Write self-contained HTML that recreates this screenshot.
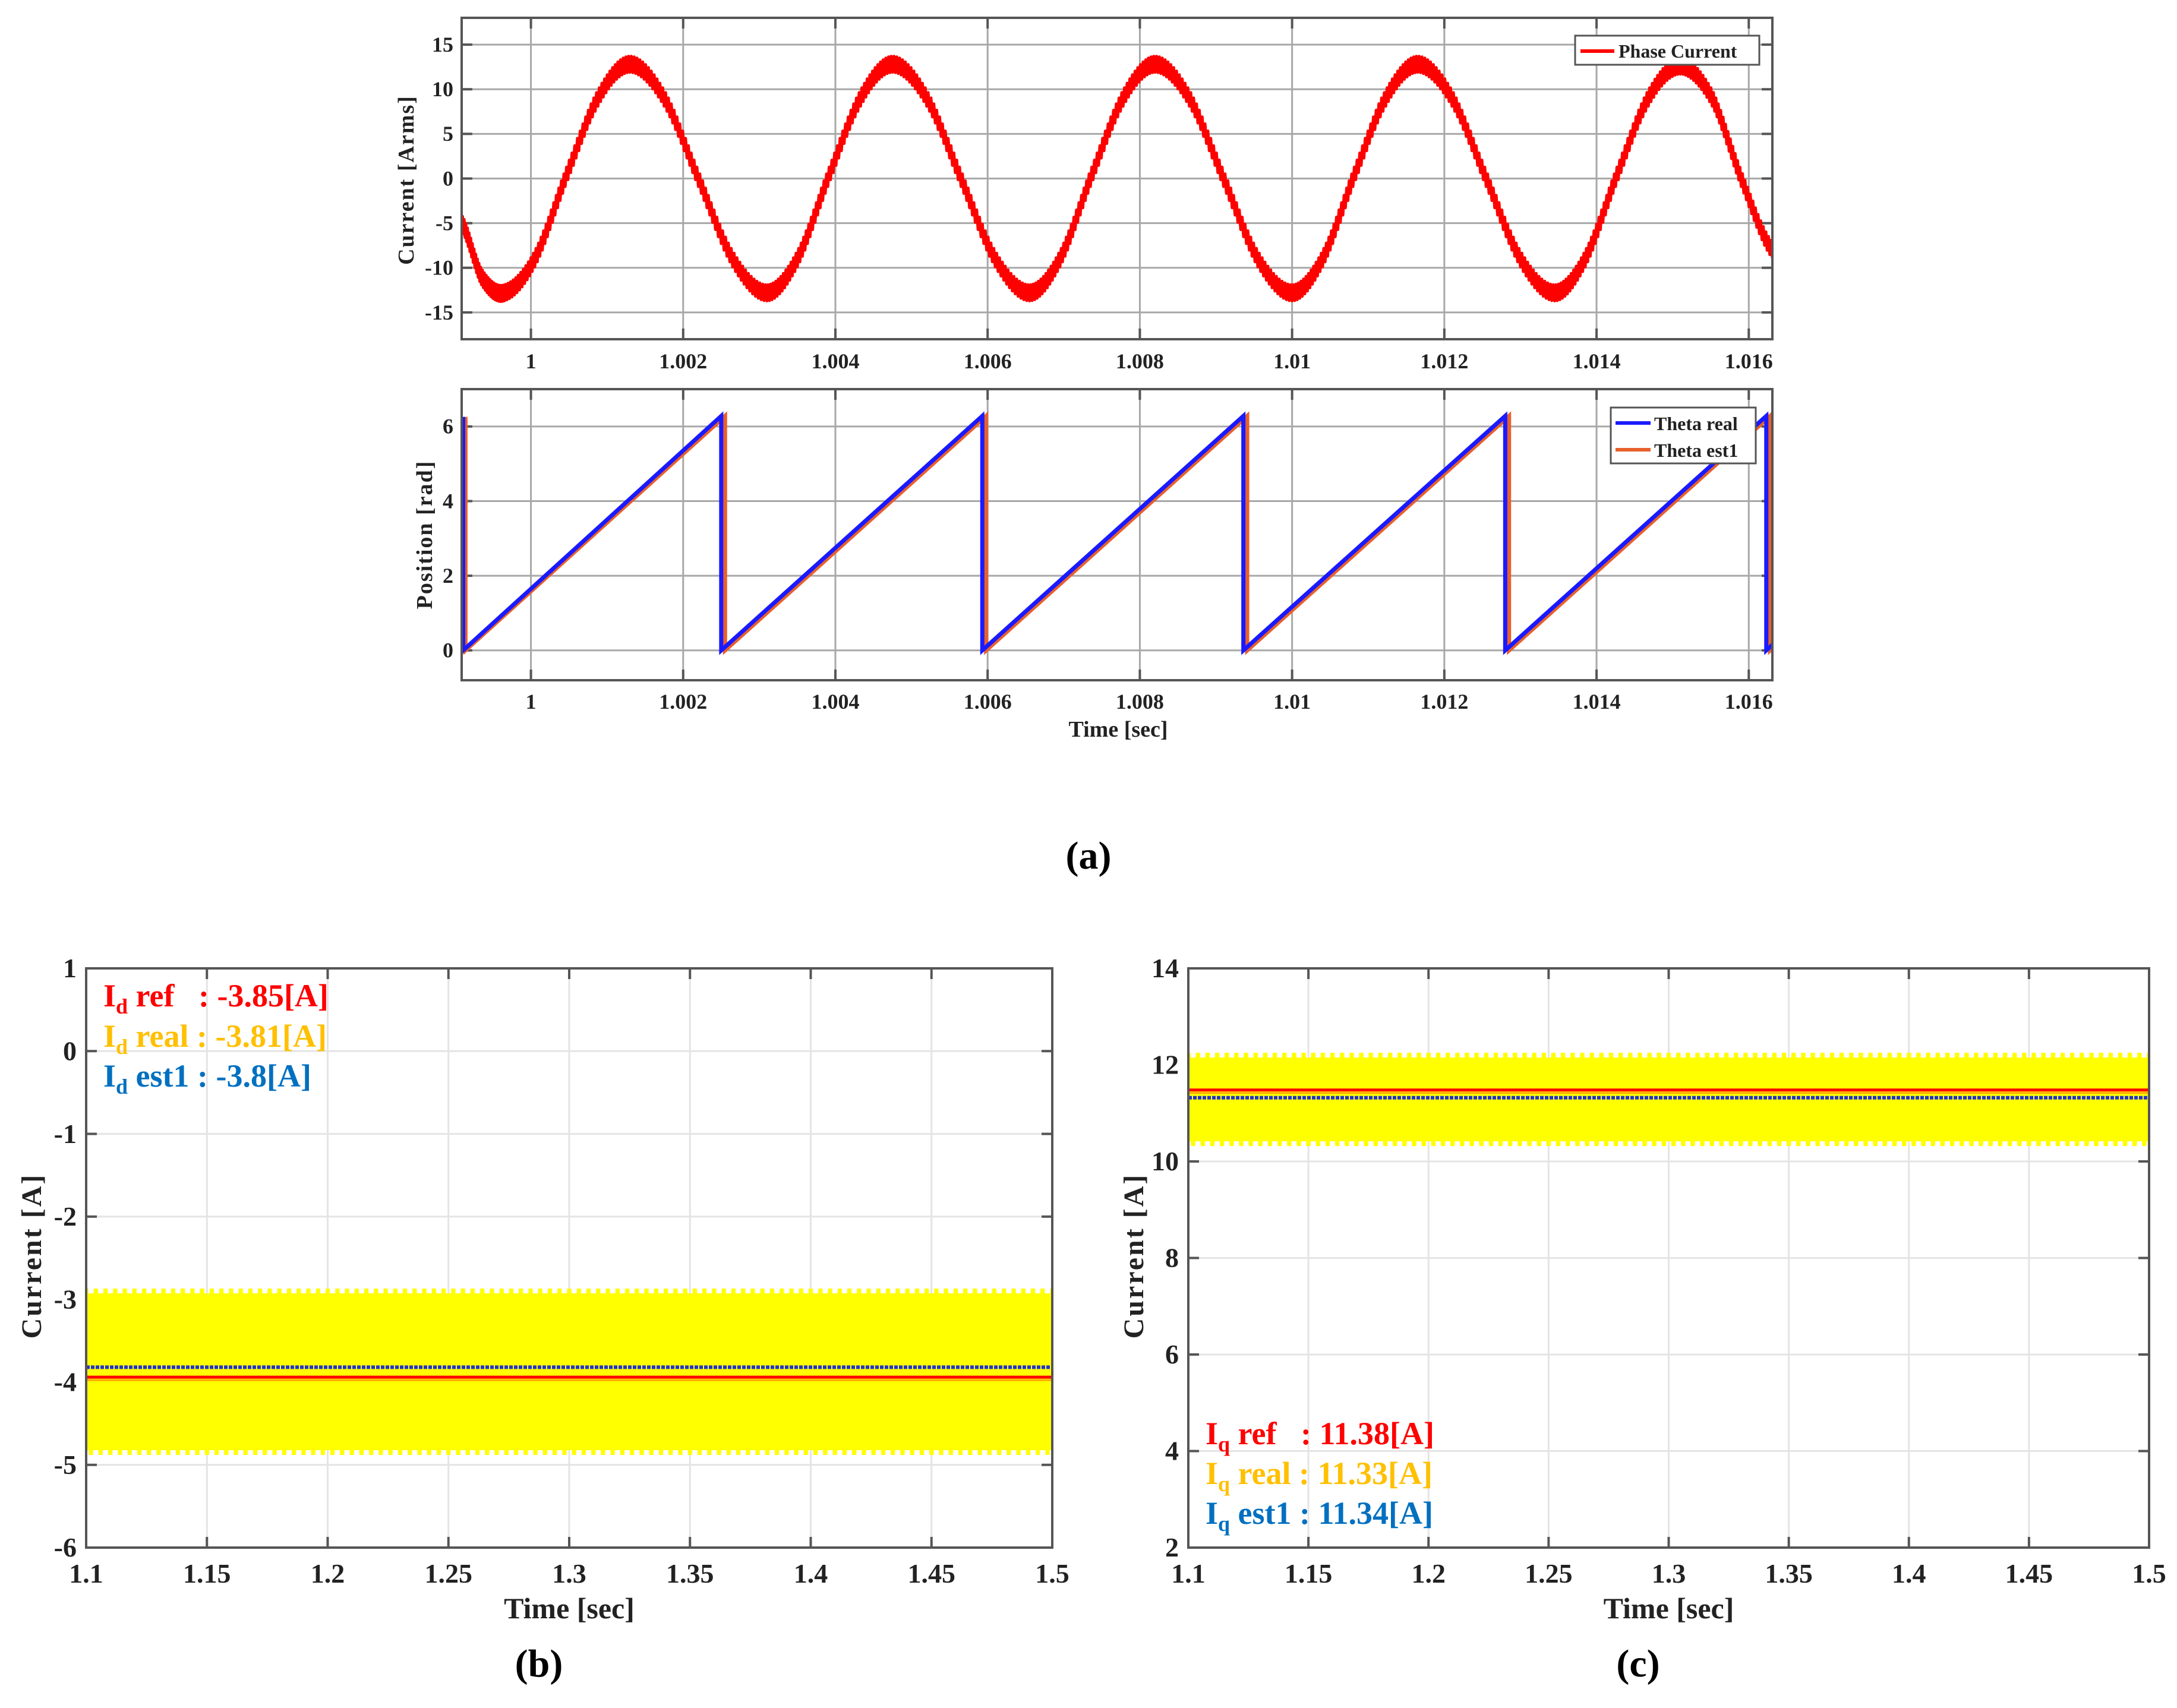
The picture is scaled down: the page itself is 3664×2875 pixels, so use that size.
<!DOCTYPE html>
<html><head><meta charset="utf-8"><style>
html,body{margin:0;padding:0;background:#fff;}
svg text{font-family:"Liberation Serif",serif;font-weight:bold;}
</style></head><body>
<svg id="fig" width="3664" height="2870" viewBox="0 0 3664 2870" xmlns="http://www.w3.org/2000/svg">
<rect width="3664" height="2870" fill="#fff"/>
</svg>
<script>
// ---- Data: phase current key points (time, value) ----
const pcTimes=[0.99909,0.99935,0.99965,1.00005,1.00045,1.00088,1.0013,1.00175,1.0022,1.00265,1.0031,1.0035,1.0039,1.00433,1.00475,1.0052,1.00565,1.0061,1.00655,1.00695,1.00735,1.00778,1.0082,1.00865,1.0091,1.00955,1.0100,1.0104,1.0108,1.01123,1.01165,1.0121,1.01255,1.013,1.01345,1.01385,1.01425,1.01468,1.0151,1.01552,1.0159,1.01631];
const pcValues=[-5,-11,-12.8,-9,0,9,12.8,9,0,-9,-12.8,-9,0,9,12.8,9,0,-9,-12.8,-9,0,9,12.8,9,0,-9,-12.8,-9,0,9,12.8,9,0,-9,-12.8,-9,0,9,12.6,9,0,-8];
const pcRipple=0.9;
// ---- Data: theta wrap instants ----
const thetaRealResets=[0.99911,1.00250,1.00593,1.00936,1.01280,1.01623];
const thetaEstResets=[0.99914,1.00255,1.00598,1.00941,1.01285,1.01628];
const thetaMax=6.28;
// ---- Data: dq currents ----
const idRef=-3.94, idEst=-3.82, idRealMax=-2.87, idRealMin=-4.88;
const iqRef=11.48, iqEst=11.32, iqRealMax=12.25, iqRealMin=10.32;
const topXTicks=[1,1.002,1.004,1.006,1.008,1.01,1.012,1.014,1.016];
const topXLabels=["1","1.002","1.004","1.006","1.008","1.01","1.012","1.014","1.016"];
const pcYTicks=[-15,-10,-5,0,5,10,15];
const thYTicks=[0,2,4,6];
const botXTicks=[1.1,1.15,1.2,1.25,1.3,1.35,1.4,1.45,1.5];
const botXLabels=["1.1","1.15","1.2","1.25","1.3","1.35","1.4","1.45","1.5"];
const idYTicks=[-6,-5,-4,-3,-2,-1,0,1];
const iqYTicks=[2,4,6,8,10,12,14];

const NS="http://www.w3.org/2000/svg";
const svg=document.getElementById('fig');
function el(tag,attrs,parent){const e=document.createElementNS(NS,tag);for(const k in attrs)e.setAttribute(k,attrs[k]);(parent||svg).appendChild(e);return e;}
function txt(s,attrs,parent){const e=el('text',attrs,parent);e.textContent=s;return e;}
function lin(d0,d1,r0,r1){return v=>r0+(v-d0)/(d1-d0)*(r1-r0);}

function axesBox(g,L,T,R,B,xs,ys,xt,yt,gridCol,gw){
  xt.forEach(v=>{const x=xs(v);const l=el('line',{x1:x,x2:x,y1:T,y2:B,stroke:gridCol,'stroke-width':gw},g);
    
    el('line',{x1:x,x2:x,y1:B,y2:B-18,stroke:'#555','stroke-width':4},g);el('line',{x1:x,x2:x,y1:T,y2:T+18,stroke:'#555','stroke-width':4},g);});
  yt.forEach(v=>{const y=ys(v);const l=el('line',{x1:L,x2:R,y1:y,y2:y,stroke:gridCol,'stroke-width':gw},g);
    
    el('line',{x1:L,x2:L+18,y1:y,y2:y,stroke:'#555','stroke-width':4},g);el('line',{x1:R,x2:R-18,y1:y,y2:y,stroke:'#555','stroke-width':4},g);});
}
function frame(g,L,T,R,B){const r=el('rect',{x:L,y:T,width:R-L,height:B-T,fill:'none',stroke:'#555','stroke-width':4},g);
  }
function tickLabels(g,xs,ys,xt,xl,yt,L,xlabY,fs,yfmt){
  xt.forEach((v,i)=>{const t=txt(xl[i],{x:xs(v),y:xlabY,'font-size':fs,'text-anchor':'middle',fill:'#222'},g);
    });
  yt.forEach(v=>{const t=txt(yfmt(v),{x:L-14,y:ys(v)+fs*0.33,'font-size':fs,'text-anchor':'end',fill:'#222'},g);
    });
}
function clip(id,L,T,R,B){const d=el('clipPath',{id:id});el('rect',{x:L,y:T,width:R-L,height:B-T},d);}

// ===== Plot 1: phase current =====
(function(){
  const L=777,T=30,R=2983,B=571;
  const xs=lin(0.99909,1.01631,L,R), ys=lin(18,-18,T,B);
  const g=el('g',{});
  clip('c1',L,T,R,B);
  axesBox(g,L,T,R,B,xs,ys,topXTicks,pcYTicks,'#a8a8a8',3);
  const pts=[];const n=pcTimes.length;
  for(let i=0;i<n-1;i++){
    const p0=i>0?i-1:i,p3=i+2<n?i+2:i+1;
    for(let s=0;s<24;s++){const u=s/24;
      const t=pcTimes[i]+(pcTimes[i+1]-pcTimes[i])*u;
      const a=pcValues[p0],b=pcValues[i],c=pcValues[i+1],d=pcValues[p3];
      const v=0.5*((2*b)+(-a+c)*u+(2*a-5*b+4*c-d)*u*u+(-a+3*b-3*c+d)*u*u*u);
      pts.push([t,v]);}
  }
  pts.push([pcTimes[n-1],pcValues[n-1]]);
  let d='';let k=0;
  pts.forEach(([t,v])=>{const off=(k++%2?pcRipple:-pcRipple);d+=(d?'L':'M')+xs(t).toFixed(1)+','+ys(v+off).toFixed(1);});
  const p=el('path',{d:d,fill:'none',stroke:'#ff0000','stroke-width':5,'clip-path':'url(#c1)','stroke-linejoin':'round'},g);
  
  frame(g,L,T,R,B);
  tickLabels(g,xs,ys,topXTicks,topXLabels,pcYTicks,L,620,36,v=>String(v));
  const yl=txt('Current [Arms]',{x:0,y:0,'font-size':38,'text-anchor':'middle',fill:'#222','letter-spacing':'2',transform:'translate(696,303) rotate(-90)'},g);
  
  const lg=el('g',{},g);
  el('rect',{x:2651,y:60,width:310,height:49,fill:'#fff',stroke:'#555','stroke-width':3},lg);
  el('line',{x1:2660,x2:2717,y1:86,y2:86,stroke:'#ff0000','stroke-width':6},lg);
  const lt=txt('Phase Current',{x:2724,y:97,'font-size':32,fill:'#222'},lg);
  
})();

// ===== Plot 2: theta =====
(function(){
  const L=777,T=655,R=2983,B=1145;
  const xs=lin(0.99909,1.01631,L,R), ys=lin(7,-0.8,T,B);
  const g=el('g',{});
  clip('c2',L,T,R,B);
  axesBox(g,L,T,R,B,xs,ys,topXTicks,thYTicks,'#a8a8a8',3);
  function saw(resets,col,name){
    let d='M'+xs(0.99909-0.00001)+','+ys(6.2);
    resets.forEach((r,i)=>{d+='L'+xs(r)+','+ys(i===0?6.2:thetaMax)+'L'+xs(r)+','+ys(0);
      const nx=i+1<resets.length?resets[i+1]:1.0164;
      const period=i+1<resets.length?nx-r:resets[1]-resets[0];
      d+='L'+xs(nx)+','+ys(thetaMax*(nx-r)/period);});
    const p=el('path',{d:d,fill:'none',stroke:col,'stroke-width':7,'clip-path':'url(#c2)'},g);
    
  }
  saw(thetaEstResets,'#e8602c','theta-est1-line');
  saw(thetaRealResets,'#1a1aff','theta-real-line');
  frame(g,L,T,R,B);
  tickLabels(g,xs,ys,topXTicks,topXLabels,thYTicks,L,1193,36,v=>String(v));
  const yl=txt('Position [rad]',{x:0,y:0,'font-size':38,'text-anchor':'middle',fill:'#222','letter-spacing':'2',transform:'translate(727,900) rotate(-90)'},g);
  
  const xl=txt('Time [sec]',{x:1882,y:1240,'font-size':38,'text-anchor':'middle',fill:'#222'},g);
  
  const lg=el('g',{},g);
  el('rect',{x:2711,y:686,width:244,height:94,fill:'#fff',stroke:'#555','stroke-width':3},lg);
  el('line',{x1:2719,x2:2778,y1:712,y2:712,stroke:'#1a1aff','stroke-width':6},lg);
  el('line',{x1:2719,x2:2778,y1:757,y2:757,stroke:'#e8602c','stroke-width':6},lg);
  const a=txt('Theta real',{x:2784,y:724,'font-size':32,fill:'#222'},lg);
  
  const b=txt('Theta est1',{x:2784,y:769,'font-size':32,fill:'#222'},lg);
  
})();

const la=txt('(a)',{x:1832,y:1462,'font-size':66,'text-anchor':'middle',fill:'#000','font-weight':'normal'});


// ===== dq plots =====
function dqPlot(id,L,R,ymin,ymax,yt,ref,est,rmax,rmin,legend,legY,name,panel,panelX){
  const T=1630,B=2605;
  const xs=lin(1.1,1.5,L,R), ys=lin(ymax,ymin,T,B);
  const g=el('g',{});
  clip(id,L,T,R,B);
  axesBox(g,L,T,R,B,xs,ys,botXTicks,yt,'#e4e4e4',3);
  const band=el('rect',{x:L,y:ys(rmax)+8,width:R-L,height:ys(rmin)-ys(rmax)-16,fill:'#ffff00'},g);
  
  let d='';const cyc=200;
  for(let i=0;i<=cyc;i++){const t=1.1+0.4*i/cyc;d+=(i?'L':'M')+xs(t).toFixed(1)+','+ys(i%2?rmin:rmax).toFixed(1);}
  const y=el('path',{d:d,fill:'none',stroke:'#ffff00','stroke-width':7,'clip-path':'url(#'+id+')'},g);
  
  const r=el('line',{x1:L,x2:R,y1:ys(ref),y2:ys(ref),stroke:'#ff0000','stroke-width':5},g);
  
  el('line',{x1:L,x2:R,y1:ys(ref)+5,y2:ys(ref)+5,stroke:'#ffa500','stroke-width':3},g);
  const e=el('line',{x1:L,x2:R,y1:ys(est),y2:ys(est),stroke:'#2233cc','stroke-width':6,'stroke-dasharray':'6,2'},g);
  
  frame(g,L,T,R,B);
  tickLabels(g,xs,ys,botXTicks,botXLabels,yt,L-2,2664,46,v=>String(v));
  const xl=txt('Time [sec]',{x:(L+R)/2,y:2724,'font-size':50,'text-anchor':'middle',fill:'#222'},g);
  
  const yl=txt('Current [A]',{x:0,y:0,'font-size':48,'text-anchor':'middle',fill:'#222','letter-spacing':'3',transform:'translate('+(L-76)+',2114) rotate(-90)'},g);
  
  const cols=['#ff0000','#ffc000','#0070c0'];
  legend.forEach((s,i)=>{
    const t=el('text',{x:L+29,y:legY[i]+18,'font-size':54,fill:cols[i]},g);
    
    const t1=document.createElementNS(NS,'tspan');t1.textContent='I';t.appendChild(t1);
    const t2=document.createElementNS(NS,'tspan');t2.setAttribute('font-size','36');t2.setAttribute('dy','12');t2.textContent=s[0];t.appendChild(t2);
    const t3=document.createElementNS(NS,'tspan');t3.setAttribute('dy','-12');t3.textContent=s[1];t.appendChild(t3);
  });
  const pl=txt(panel,{x:panelX,y:2822,'font-size':66,'text-anchor':'middle',fill:'#000','font-weight':'normal'});
  
}
dqPlot('c3',145,1771,-6,1,idYTicks,idRef,idEst,idRealMax,idRealMin,
  [['d','\u00a0ref\u00a0\u00a0\u00a0: -3.85[A]'],['d','\u00a0real : -3.81[A]'],['d','\u00a0est1 : -3.8[A]']],[1676,1744,1811],'id-plot','(b)',907);
dqPlot('c4',2000,3617,2,14,iqYTicks,iqRef,iqEst,iqRealMax,iqRealMin,
  [['q','\u00a0ref\u00a0\u00a0\u00a0: 11.38[A]'],['q','\u00a0real : 11.33[A]'],['q','\u00a0est1 : 11.34[A]']],[2413,2480,2547],'iq-plot','(c)',2757);
</script>
</body></html>
